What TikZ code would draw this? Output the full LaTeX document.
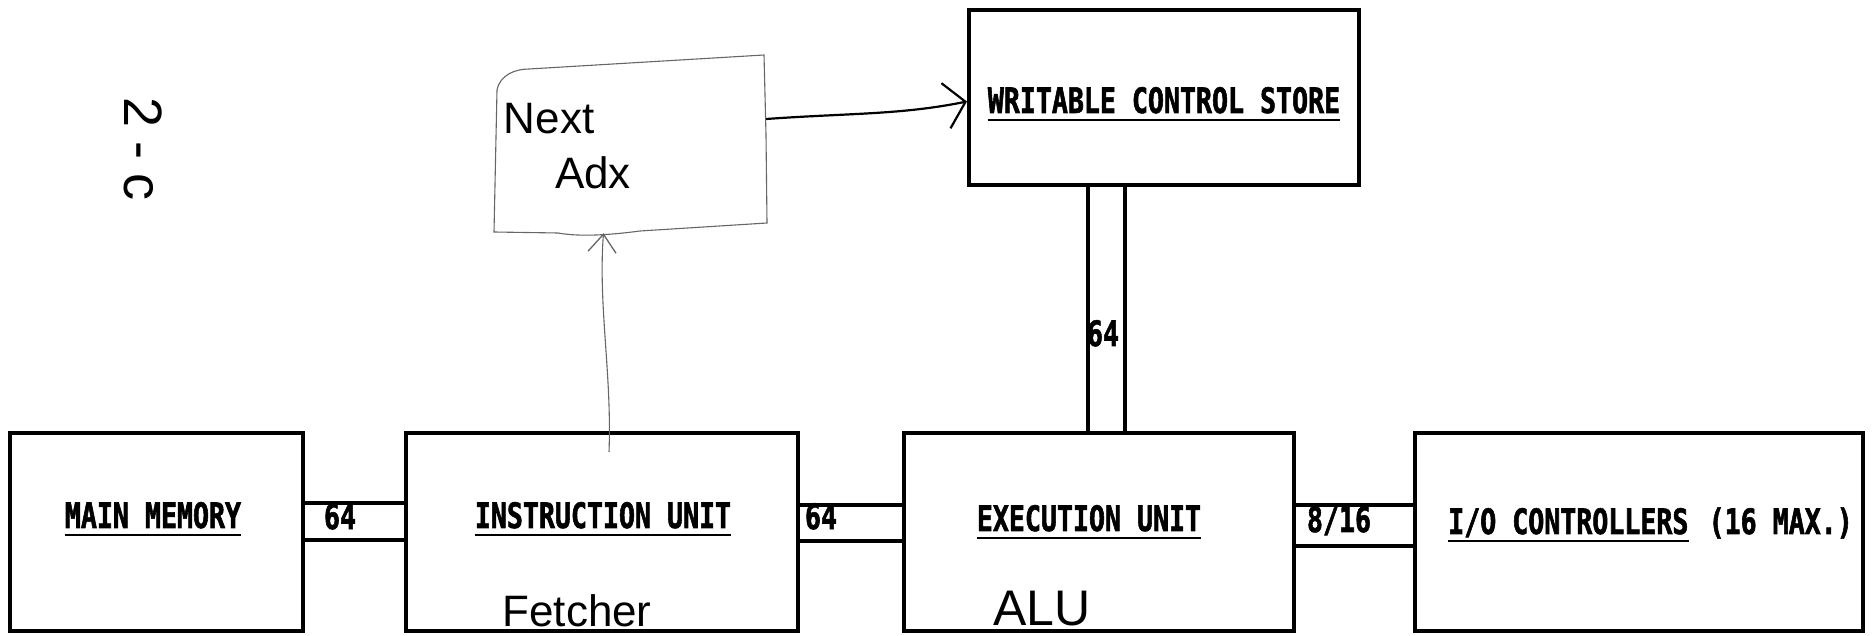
\documentclass[tikz,border=0pt]{standalone}
\usepackage{fontspec}
\newfontfamily\tw{DejaVu Sans Mono}[FakeStretch=0.76, BoldFeatures={FakeBold=1.6}]
\newfontfamily\hand{Liberation Sans}
\usetikzlibrary{arrows.meta}
\begin{document}
\begin{tikzpicture}[x=1pt,y=1pt,
  box/.style={draw, line width=4pt, minimum height=198pt, inner sep=0pt},
  bus/.style={line width=4pt},
  lab/.style={font=\tw\bfseries\fontsize{35}{38}\selectfont, inner sep=0pt, anchor=base},
  ul/.style={line width=2.8pt},
  hw/.style={font=\hand\fontsize{44}{48}\selectfont, inner sep=0pt},
  pen/.style={line width=1.1pt, draw=black!60}
]
\useasboundingbox (0,0) rectangle (1872,635);

% main boxes
\node[box, minimum width=293pt] (mm) at (156.5,103) {};
\node[box, minimum width=392pt] (iu) at (602,103) {};
\node[box, minimum width=390pt] (eu) at (1099,103) {};
\node[box, minimum width=448pt] (io) at (1639,103) {};
\node[box, minimum width=390pt, minimum height=175pt] (wcs) at (1164,537.5) {};

% buses
\coordinate (b1) at (0,132); \coordinate (b2) at (0,95);
\coordinate (b3) at (0,130); \coordinate (b4) at (0,94);
\coordinate (b5) at (0,130); \coordinate (b6) at (0,89);
\draw[bus] (mm.east |- b1) -- (iu.west |- b1);
\draw[bus] (mm.east |- b2) -- (iu.west |- b2);
\draw[bus] (iu.east |- b3) -- (eu.west |- b3);
\draw[bus] (iu.east |- b4) -- (eu.west |- b4);
\draw[bus] (eu.east |- b5) -- (io.west |- b5);
\draw[bus] (eu.east |- b6) -- (io.west |- b6);
\coordinate (v1) at (1088,0); \coordinate (v2) at (1125,0);
\draw[bus] (wcs.south -| v1) -- (eu.north -| v1);
\draw[bus] (wcs.south -| v2) -- (eu.north -| v2);

% box labels
\node[lab] (mmt) at (153,107) {MAIN MEMORY};
\draw[ul] ([yshift=-7pt]mmt.base west) -- ([yshift=-7pt]mmt.base east);
\node[lab] (iut) at (603,107) {INSTRUCTION UNIT};
\draw[ul] ([yshift=-7pt]iut.base west) -- ([yshift=-7pt]iut.base east);
\node[lab] (eut) at (1089,104) {EXECUTION UNIT};
\draw[ul] ([yshift=-7pt]eut.base west) -- ([yshift=-7pt]eut.base east);
\node[lab, anchor=base west] (iot) at (1448,101) {I/O CONTROLLERS};
\draw[ul] ([yshift=-7pt]iot.base west) -- ([yshift=-7pt]iot.base east);
\node[lab, anchor=base east] (iom) at (1853,101) {(16 MAX.)};
\node[lab] (wcst) at (1164,522) {WRITABLE CONTROL STORE};
\draw[ul] ([yshift=-7pt]wcst.base west) -- ([yshift=-7pt]wcst.base east);

% bus labels
\node[lab] (l1) at (340,106) {64};
\node[lab] (l2) at (821,106) {64};
\node[lab] (l3) at (1339,103) {8/16};
\node[lab] (l4) at (1103,289) {64};

% handwritten annotations
\node[draw=none, minimum width=271pt, minimum height=178pt] (nxt) at (630.5,491) {};
\draw[pen] (494,403) -- (497,545) .. controls (500,560) and (515,566) .. (529,566)
  -- (764,580) -- (766,500) -- (767,412) -- (640,404)
  .. controls (610,400) and (580,398) .. (558,402) -- cycle;
\node[hw] (nx1) at (549,516) {Next};
\node[hw] (nx2) at (593,462) {Adx};
\draw[line width=2.2pt, -{Straight Barb[length=20pt,width=46pt,line width=2.2pt]}]
  ([yshift=25pt]nxt.east) .. controls (850,522) and (900,520) .. ([yshift=-4pt]wcs.west);
\draw[pen, -{Straight Barb[length=18pt,width=28pt,line width=1.3pt]}]
  ([xshift=7pt,yshift=-21pt]iu.north) .. controls (612,260) and (598,330) .. ([xshift=-27pt]nxt.south);
\node[hw] (fet) at (577,24) {Fetcher};
\node[hw, font=\hand\fontsize{50}{54}\selectfont] (alu) at (1042,26) {ALU};
\node[hw, rotate=-90, font=\hand\fontsize{54}{58}\selectfont] (pg) at (143,486) {2\hspace{14pt}-\hspace{14pt}c};
\end{tikzpicture}
\end{document}
